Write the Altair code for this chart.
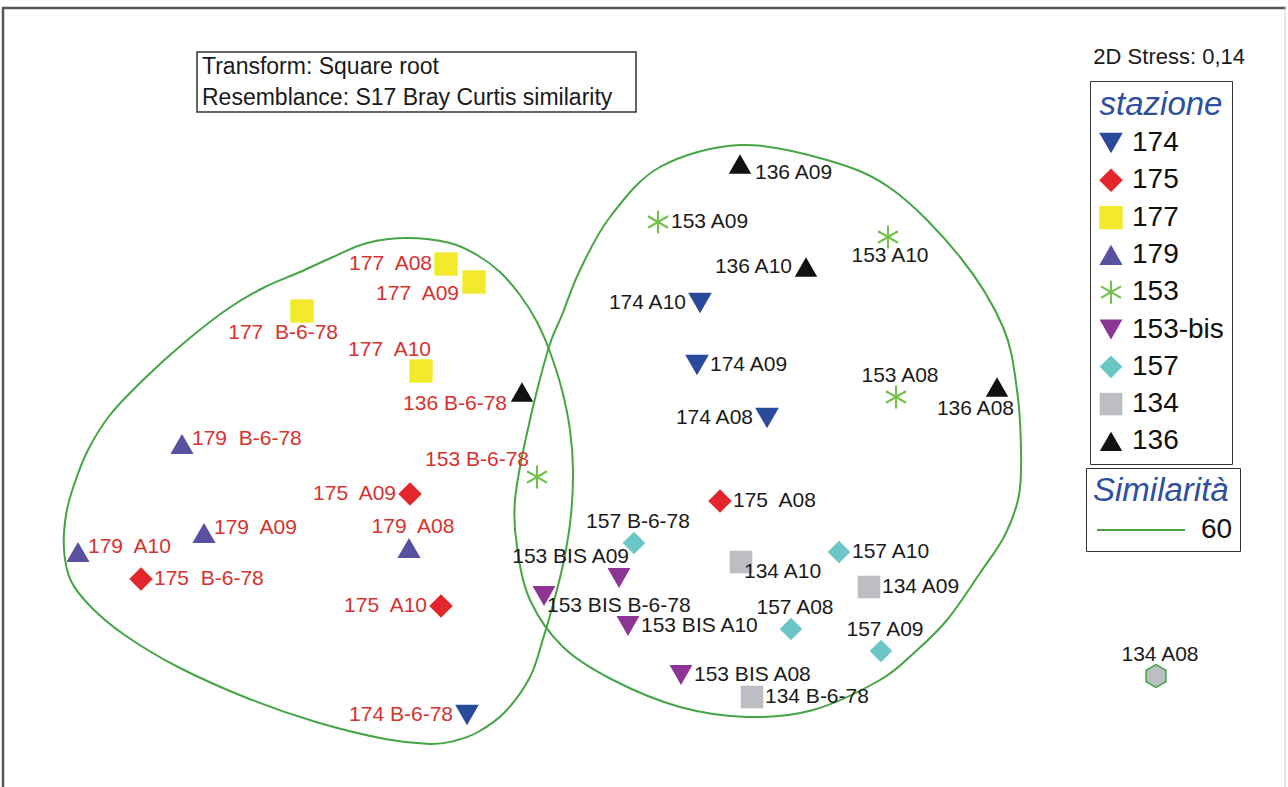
import altair as alt
import pandas as pd

# ---- nMDS ordination of the benthic samples (2D, Bray-Curtis on sqrt data) ----
samples = ["174 A10", "174 A09", "174 A08", "174 B-6-78",
           "175 A08", "175 A09", "175 A10", "175 B-6-78",
           "177 A08", "177 A09", "177 A10", "177 B-6-78",
           "179 A08", "179 A09", "179 A10", "179 B-6-78",
           "153 A08", "153 A09", "153 A10", "153 B-6-78",
           "153 BIS A08", "153 BIS A09", "153 BIS A10", "153 BIS B-6-78",
           "157 A08", "157 A09", "157 A10", "157 B-6-78",
           "134 A08", "134 A09", "134 A10", "134 B-6-78",
           "136 A08", "136 A09", "136 A10", "136 B-6-78"]

labels = ["174 A10", "174 A09", "174 A08", "174 B-6-78",
          "175\u00a0 A08", "175\u00a0 A09", "175\u00a0 A10", "175\u00a0 B-6-78",
          "177\u00a0 A08", "177\u00a0 A09", "177\u00a0 A10", "177\u00a0 B-6-78",
          "179\u00a0 A08", "179\u00a0 A09", "179\u00a0 A10", "179\u00a0 B-6-78",
          "153 A08", "153 A09", "153 A10", "153 B-6-78",
          "153 BIS A08", "153 BIS A09", "153 BIS A10", "153 BIS B-6-78",
          "157 A08", "157 A09", "157 A10", "157 B-6-78",
          "134 A08", "134 A09", "134 A10", "134 B-6-78",
          "136 A08", "136 A09", "136 A10", "136 B-6-78"]

stations = (["174"] * 4 + ["175"] * 4 + ["177"] * 4 + ["179"] * 4 + ["153"] * 4
            + ["153-bis"] * 4 + ["157"] * 4 + ["134"] * 4 + ["136"] * 4)

mds_x = [0.60, 0.57, 1.27, -1.73,
         0.80, -2.30, -1.99, -4.99,
         -1.94, -1.66, -2.19, -3.38,
         -2.31, -4.36, -5.62, -4.58,
         2.56, 0.18, 2.48, -1.03,
         0.41, -0.21, -0.12, -0.96,
         1.51, 2.41, 1.99, -0.06,
         5.16, 2.29, 1.01, 1.12,
         3.57, 1.00, 1.66, -1.18]

mds_y = [0.97, 0.35, -0.18, -3.15,
         -1.01, -0.94, -2.06, -1.79,
         1.36, 1.18, 0.29, 0.89,
         -1.48, -1.33, -1.52, -0.44,
         0.03, 1.78, 1.63, -0.77,
         -2.75, -1.78, -2.26, -1.96,
         -2.29, -2.51, -1.52, -1.43,
         -2.76, -1.87, -1.62, -2.97,
         0.13, 2.36, 1.33, 0.08]

# similarity group at 60 % (S = sample left on its own)
groups = ["B", "B", "B", "A",
          "B", "A", "A", "A",
          "A", "A", "A", "A",
          "A", "A", "A", "A",
          "B", "B", "B", "A",
          "B", "B", "B", "B",
          "B", "B", "B", "B",
          "S", "B", "B", "B",
          "B", "B", "B", "A"]

# where each sample label sits relative to its symbol
label_pos = ["L", "R", "L", "L",
             "R", "L", "L", "R",
             "L", "Ld", "AR", "BWW",
             "A", "Ru", "Ru", "Ru",
             "A", "R", "B", "LU",
             "R", "AR", "R", "BR",
             "A", "A", "R", "A",
             "A", "R", "BR", "R",
             "BW", "Rd", "L", "Ld"]

# 60 % similarity contours
group_a_x = [-2.33, -1.90, -1.63, -1.40, -1.20, -1.03, -0.90, -0.78, -0.70, -0.67,
             -0.69, -0.76, -0.86, -0.97, -1.10, -1.35, -1.62, -1.86, -2.10, -2.55,
             -3.24, -3.93, -4.62, -5.14, -5.48, -5.69, -5.76, -5.74, -5.66, -5.52,
             -5.30, -4.97, -4.55, -4.11, -3.75, -3.40, -3.07, -2.73]
group_a_y = [1.62, 1.57, 1.45, 1.28, 1.05, 0.78, 0.48, 0.10, -0.30, -0.70,
             -1.15, -1.60, -2.01, -2.39, -2.77, -3.12, -3.32, -3.41, -3.44, -3.39,
             -3.22, -2.98, -2.67, -2.36, -2.08, -1.81, -1.50, -1.15, -0.85, -0.50,
             -0.15, 0.20, 0.58, 0.92, 1.13, 1.28, 1.43, 1.57]
group_b_x = [1.00, 1.87, 2.53, 3.20, 3.63, 3.77, 3.81, 3.79, 3.65, 3.40,
             3.07, 2.75, 2.40, 1.73, 1.07, 0.40, -0.27, -0.77, -1.10, -1.23,
             -1.25, -1.13, -0.92, -0.78, -0.60, -0.30, 0.20]
group_b_y = [2.55, 2.40, 2.10, 1.43, 0.73, 0.10, -0.50, -0.95, -1.35, -1.73,
             -2.20, -2.52, -2.80, -3.10, -3.17, -3.07, -2.80, -2.47, -2.00, -1.47,
             -1.00, -0.33, 0.50, 0.85, 1.30, 1.83, 2.33]

# ---- styling ----
station_order = ["174", "175", "177", "179", "153", "153-bis", "157", "134", "136"]
station_colors = ["#2a4a9c", "#e3262b", "#f4ea2c", "#5a50a0", "#72c04c",
                  "#8c3595", "#6cc6c6", "#bdbdc4", "#111111"]
ASTERISK = ("M-0.09,-1L0.09,-1L0.09,1L-0.09,1Z"
            "M0.911,0.422L0.821,0.578L-0.911,-0.422L-0.821,-0.578Z"
            "M0.821,-0.578L0.911,-0.422L-0.821,0.578L-0.911,0.422Z")
HEXAGON = "M0,-1L0.866,-0.5L0.866,0.5L0,1L-0.866,0.5L-0.866,-0.5Z"
LONG_STROKE = "M-4,0L4,0"
station_shapes = ["triangle-down", "diamond", "square", "triangle-up", ASTERISK,
                  "triangle-down", "diamond", "square", "triangle-up"]
station_sizes = [560, 500, 360, 560, 500, 560, 500, 360, 560]

GREEN = "#44a544"
TITLE_BLUE = "#2d4f9e"
FONT = "Liberation Sans"

PLACEMENT = {
    "R": ("left", 13, 0),
    "Ru": ("left", 10, -5),
    "Rd": ("left", 15, 9),
    "BR": ("left", 3, 10),
    "L": ("right", -14, 0),
    "Ld": ("right", -15, 12),
    "LU": ("right", -8, -17),
    "AR": ("right", 10, -21),
    "A": ("center", 4, -21),
    "B": ("center", 2, 19),
    "BW": ("right", 17, 22),
    "BWW": ("right", 36, 22),
}

pts = pd.DataFrame({
    "sample": samples, "label": labels, "stazione": stations,
    "x": mds_x, "y": mds_y, "group": groups, "pos": label_pos,
})

contours = pd.concat([
    pd.DataFrame({"x": group_a_x, "y": group_a_y, "grp": "A",
                  "idx": range(len(group_a_x)), "sim": "60"}),
    pd.DataFrame({"x": group_b_x, "y": group_b_y, "grp": "B",
                  "idx": range(len(group_b_x)), "sim": "60"}),
])

X = alt.X("x:Q", scale=alt.Scale(domain=[-6.40, 6.48], nice=False, zero=False), axis=None)
Y = alt.Y("y:Q", scale=alt.Scale(domain=[-3.87, 4.00], nice=False, zero=False), axis=None)

# similarity contours
contour_layer = alt.Chart(contours).mark_line(
    interpolate="cardinal-closed", strokeWidth=2
).encode(
    x=X, y=Y, detail="grp:N", order=alt.Order("idx:Q"),
    stroke=alt.Stroke("sim:N", scale=alt.Scale(domain=["60"], range=[GREEN]),
                      legend=alt.Legend(
                          title="Similarità", orient="none", legendX=1086, legendY=468,
                          symbolType=LONG_STROKE, symbolSize=484, symbolStrokeWidth=2,
                          symbolOffset=34, labelOffset=46,
                          titleFont=FONT, titleFontSize=33, titleFontStyle="italic",
                          titleFontWeight="normal", titleColor=TITLE_BLUE,
                          labelFont=FONT, labelFontSize=28, labelColor="#111111",
                          padding=7, titlePadding=8,
                          strokeColor="#333333")),
)

stazione_legend = alt.Legend(
    title="stazione", orient="none", legendX=1090, legendY=81,
    titleFont=FONT, titleFontSize=33, titleFontStyle="italic",
    titleFontWeight="normal", titleColor=TITLE_BLUE, titleAnchor="middle",
    labelFont=FONT, labelFontSize=28, labelColor="#111111",
    labelOffset=7, rowPadding=9.3, symbolSize=480, symbolOffset=-1,
    symbolStrokeWidth=0, padding=8, titlePadding=7,
    strokeColor="#333333")

# sample symbols
point_layer = alt.Chart(pts).transform_filter(
    "datum.group != 'S'"
).mark_point(filled=True, opacity=1).encode(
    x=X, y=Y,
    color=alt.Color("stazione:N",
                    scale=alt.Scale(domain=station_order, range=station_colors),
                    legend=stazione_legend),
    shape=alt.Shape("stazione:N",
                    scale=alt.Scale(domain=station_order, range=station_shapes),
                    legend=stazione_legend),
    size=alt.Size("stazione:N",
                  scale=alt.Scale(domain=station_order, range=station_sizes),
                  legend=None),
)

# a sample forming a group on its own
single_layer = alt.Chart(pts).transform_filter(
    "datum.group == 'S'"
).mark_point(shape=HEXAGON, filled=True, fill="#bdbdc4", stroke=GREEN,
             strokeWidth=1.5, size=520, opacity=1).encode(x=X, y=Y)

# sample labels
label_layers = []
for key, (align, dx, dy) in PLACEMENT.items():
    label_layers.append(
        alt.Chart(pts).transform_filter(f"datum.pos == '{key}'").mark_text(
            align=align, baseline="middle", dx=dx, dy=dy, font=FONT, fontSize=21
        ).encode(
            x=X, y=Y, text="label:N",
            fill=alt.Fill("group:N",
                          scale=alt.Scale(domain=["A", "B", "S"],
                                          range=["#d6322e", "#1a1a1a", "#1a1a1a"]),
                          legend=None),
        )
    )

one = pd.DataFrame({"k": [0]})

# page frame
frame = [
    alt.Chart(one).mark_rule(color="#555555", strokeWidth=2.5).encode(
        x=alt.value(2), x2=alt.value(1286), y=alt.value(8)),
    alt.Chart(one).mark_rule(color="#555555", strokeWidth=2.5).encode(
        x=alt.value(3), y=alt.value(7), y2=alt.value(787)),
    alt.Chart(one).mark_rule(color="#d0d0c8", strokeWidth=1).encode(
        x=alt.value(1285), y=alt.value(7), y2=alt.value(787)),
]

# analysis notes
notes_box = alt.Chart(one).mark_rect(filled=False, stroke="#333333", strokeWidth=1.5).encode(
    x=alt.value(197), x2=alt.value(636), y=alt.value(52), y2=alt.value(112))
notes_text = alt.Chart(one).mark_text(
    align="left", baseline="middle", font=FONT, fontSize=23, color="#1a1a1a",
    lineBreak="\n", lineHeight=31,
).encode(x=alt.value(202), y=alt.value(67),
         text=alt.value("Transform: Square root\nResemblance: S17 Bray Curtis similarity"))
stress_text = alt.Chart(one).mark_text(
    align="right", baseline="middle", font=FONT, fontSize=22, color="#1a1a1a"
).encode(x=alt.value(1245), y=alt.value(57), text=alt.value("2D Stress: 0,14"))

chart = alt.layer(
    *frame, contour_layer, point_layer, single_layer, *label_layers,
    notes_box, notes_text, stress_text,
).properties(
    width=1288, height=787, padding=0,
    autosize=alt.AutoSizeParams(type="none"),
).configure_view(stroke=None)

chart.save("out.html", embed_options={"renderer": "svg", "actions": False})
